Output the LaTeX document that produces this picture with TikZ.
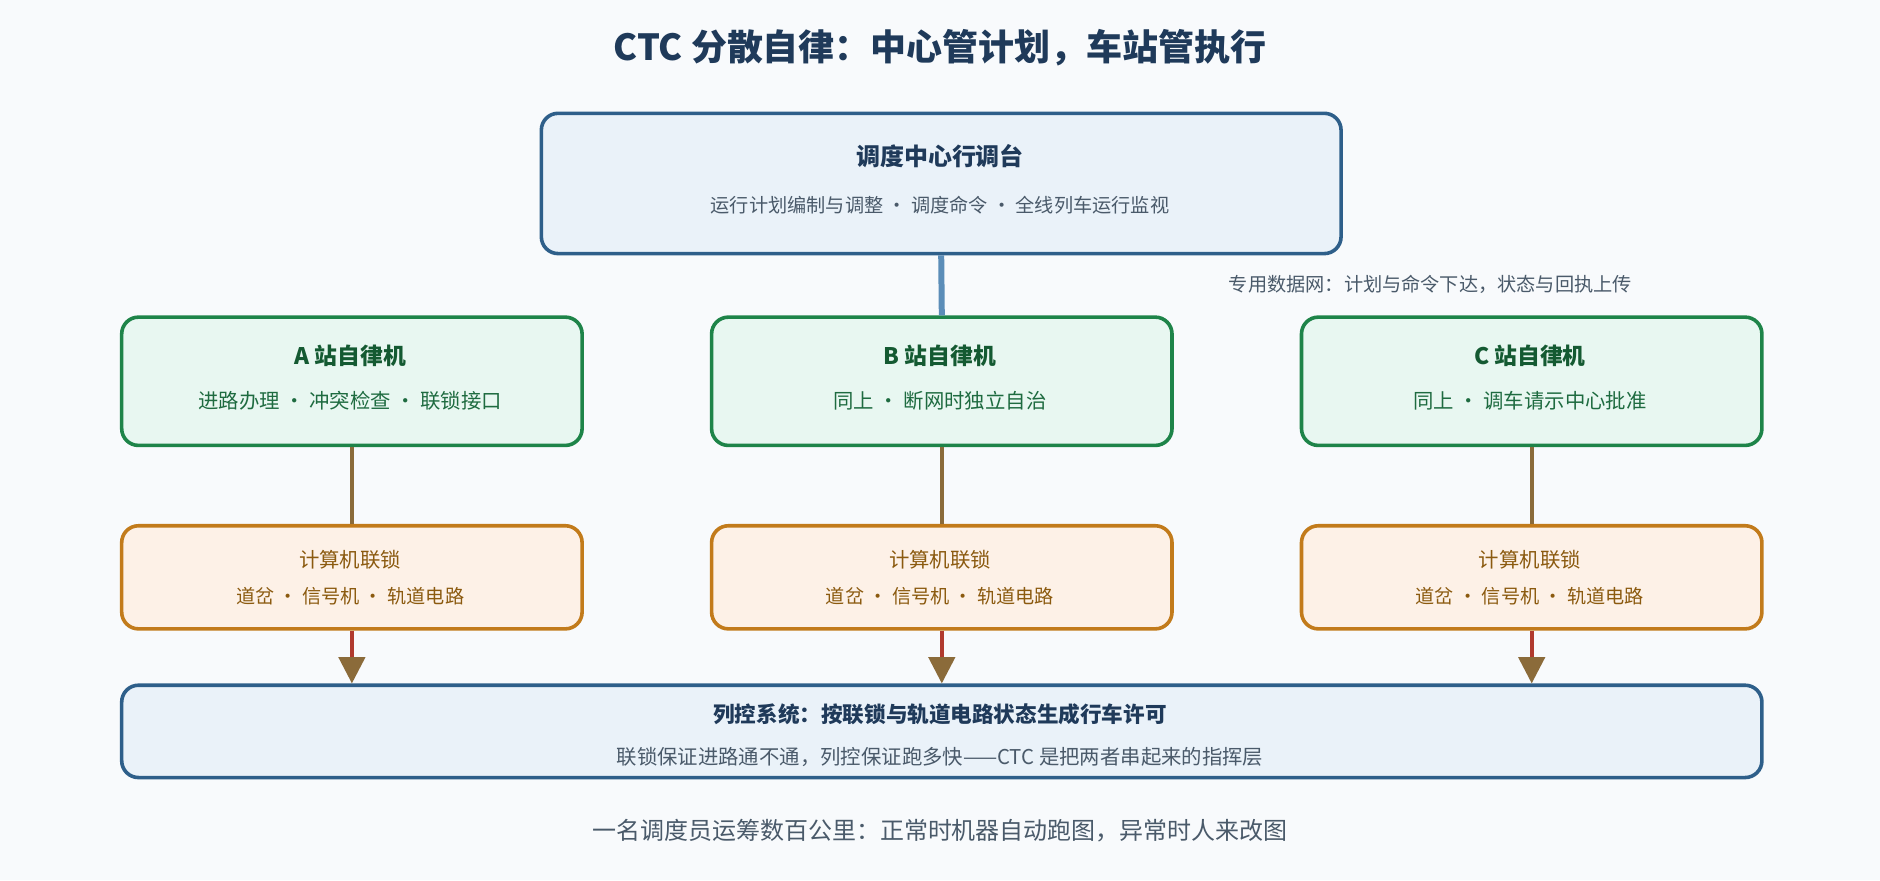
\documentclass[tikz,border=0pt]{standalone}
\usepackage{fontspec}
\setmainfont{Noto Sans CJK SC}
\usetikzlibrary{arrows.meta}
\definecolor{bgc}{HTML}{F8FAFC}
\definecolor{navy}{HTML}{1F3A5A}
\definecolor{blueedge}{HTML}{2E5F8A}
\definecolor{bluefill}{HTML}{EAF2F9}
\definecolor{netline}{HTML}{5B8DB8}
\definecolor{greenedge}{HTML}{1E8449}
\definecolor{greenfill}{HTML}{E8F7F1}
\definecolor{greentext}{HTML}{145A32}
\definecolor{greensub}{HTML}{1E6B40}
\definecolor{orangeedge}{HTML}{C27B1B}
\definecolor{orangefill}{HTML}{FDF1E7}
\definecolor{orangetext}{HTML}{8B5A0F}
\definecolor{brownline}{HTML}{8B6B3A}
\definecolor{redline}{HTML}{B03A2E}
\definecolor{graytext}{HTML}{4A5A6A}
\begin{document}
\begin{tikzpicture}[x=0.5pt,y=-0.5pt]
% Definir estilos
\tikzstyle{box} = [rectangle, rounded corners=7pt, line width=1.5pt, anchor=north west, inner sep=0pt]
\tikzstyle{center} = [box, draw=blueedge, fill=bluefill]
\tikzstyle{station} = [box, draw=greenedge, fill=greenfill, minimum width=192pt, minimum height=53.5pt]
\tikzstyle{interlock} = [box, draw=orangeedge, fill=orangefill, minimum width=192pt, minimum height=43pt]
\tikzstyle{down} = [line width=1.5pt, redline, -{Triangle[length=11pt, width=11pt, color=brownline]}]

% Fondo
\fill[bgc] (0,0) rectangle (1568,734);
\node[font=\fontsize{15}{18}\selectfont\bfseries, text=navy] (title) at (784,40) {CTC 分散自律：中心管计划，车站管执行};

% Centro
\node[center, minimum width=333.5pt, minimum height=58.5pt] (ctc) at (450,93) {};
\node[font=\fontsize{10}{12}\selectfont\bfseries, text=navy] (ctctitle) at (784,130) {调度中心行调台};
\node[font=\fontsize{8}{10}\selectfont, text=graytext] (ctcsub) at (784,171) {运行计划编制与调整 · 调度命令 · 全线列车运行监视};

% Estaciones
\foreach \n/\x/\t/\s in {A/100/A 站自律机/进路办理 · 冲突检查 · 联锁接口,
                         B/592/B 站自律机/同上 · 断网时独立自治,
                         C/1084/C 站自律机/同上 · 调车请示中心批准}{
  \node[station] (st\n) at (\x,263) {};
  \node[font=\fontsize{9.5}{11}\selectfont\bfseries, text=greentext] at (\x+192,297) {\t};
  \node[font=\fontsize{8.5}{10}\selectfont, text=greensub] at (\x+192,334) {\s};
  \node[interlock] (il\n) at (\x,437) {};
  \node[font=\fontsize{8.5}{10}\selectfont, text=orangetext] at (\x+192,467) {计算机联锁};
  \node[font=\fontsize{8}{10}\selectfont, text=orangetext] at (\x+192,497) {道岔 · 信号机 · 轨道电路};
  \draw[line width=1.5pt, brownline] (st\n.south) -- (il\n.north);
}

% Red de datos
\draw[line width=2.5pt, netline] (ctc.south) -- (stB.north);
\node[font=\fontsize{8}{10}\selectfont, text=graytext] (netlabel) at (1193,237) {专用数据网：计划与命令下达，状态与回执上传};

% Control de trenes
\node[center, minimum width=684pt, minimum height=38.5pt] (atp) at (100,570) {};
\node[font=\fontsize{9}{11}\selectfont\bfseries, text=navy] (atptitle) at (784,596) {列控系统：按联锁与轨道电路状态生成行车许可};
\node[font=\fontsize{8.5}{10}\selectfont, text=graytext] (atpsub) at (784,631) {联锁保证进路通不通，列控保证跑多快——CTC 是把两者串起来的指挥层};
\foreach \n in {A,B,C}
  \draw[down] (il\n.south) -- (il\n.south |- atp.north);

% Pie
\node[font=\fontsize{10}{12}\selectfont, text=graytext] (foot) at (784,693) {一名调度员运筹数百公里：正常时机器自动跑图，异常时人来改图};
\end{tikzpicture}
\end{document}
